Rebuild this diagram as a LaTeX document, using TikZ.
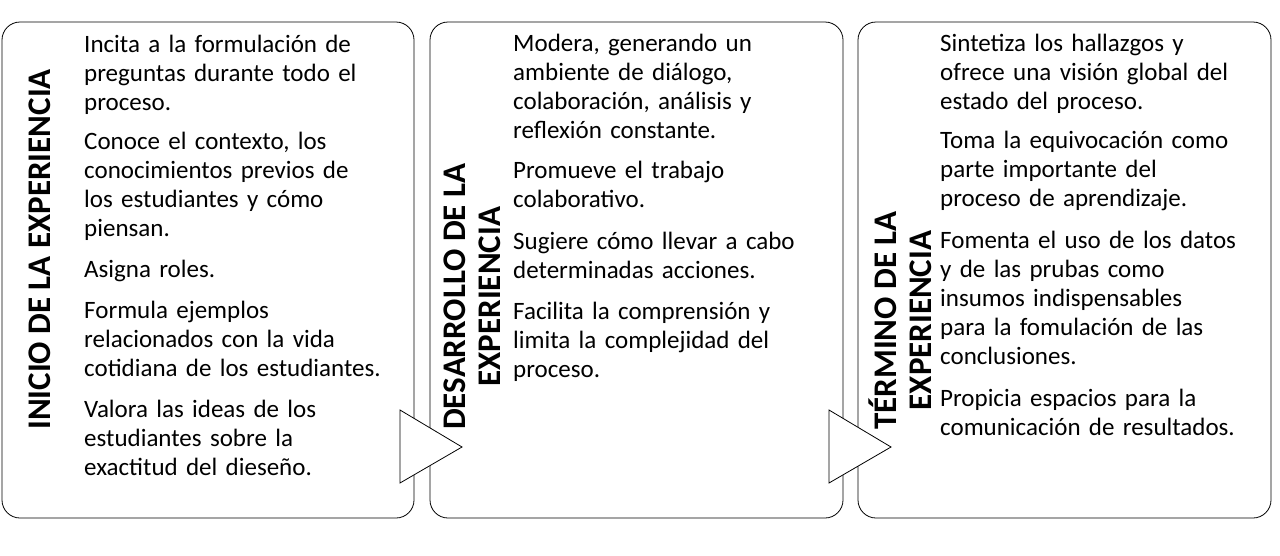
\documentclass[tikz,border=0pt]{standalone}
\usepackage{fontspec}
\setmainfont{Carlito}
\begin{document}
\begin{tikzpicture}[x=1pt,y=-1pt,
  panel/.style={draw=black,line width=0.8pt,rounded corners=18pt},
  body/.style={anchor=north west,align=left,inner sep=0pt,font=\fontsize{25}{29}\selectfont},
  title/.style={rotate=90,anchor=west,align=center,inner sep=0pt,font=\fontsize{33}{35}\selectfont\bfseries},
  tri/.style={draw=black,fill=white,line width=0.8pt}]
\useasboundingbox (0,0) rectangle (1280,555);
\fill[white] (0,0) rectangle (1280,555);
\draw[panel] (2,22) rectangle (414,518);
\draw[panel] (430,22) rectangle (843,518);
\draw[panel] (858,22) rectangle (1271,518);
\node[title] (t1) at (40,430) {INICIO DE LA EXPERIENCIA};
\node[title] (t2) at (472,430) {DESARROLLO DE LA\\EXPERIENCIA};
\node[title] (t3) at (900,430) {TÉRMINO DE LA\\EXPERIENCIA};
\node[body,text width=320pt] (b1) at (84,35) {%
Incita a la formulación de\\preguntas durante todo el\\proceso.\\[10pt]
Conoce el contexto, los\\conocimientos previos de\\los estudiantes y cómo\\piensan.\\[12pt]
Asigna roles.\\[12pt]
Formula ejemplos\\relacionados con la vida\\cotidiana de los estudiantes.\\[12pt]
Valora las ideas de los\\estudiantes sobre la\\exactitud del dieseño.};
\node[body,text width=320pt] (b2) at (513,34) {%
Modera, generando un\\ambiente de diálogo,\\colaboración, análisis y\\reflexión constante.\\[11pt]
Promueve el trabajo\\colaborativo.\\[13pt]
Sugiere cómo llevar a cabo\\determinadas acciones.\\[12pt]
Facilita la comprensión y\\limita la complejidad del\\proceso.};
\node[body,text width=320pt] (b3) at (940,34) {%
Sintetiza los hallazgos y\\ofrece una visión global del\\estado del proceso.\\[10pt]
Toma la equivocación como\\parte importante del\\proceso de aprendizaje.\\[13pt]
Fomenta el uso de los datos\\y de las prubas como\\insumos indispensables\\para la fomulación de las\\conclusiones.\\[13pt]
Propicia espacios para la\\comunicación de resultados.};
\draw[tri] (400,410) -- (400,483) -- (462,447) -- cycle;
\draw[tri] (829,410) -- (829,483) -- (891,447) -- cycle;
\end{tikzpicture}
\end{document}
